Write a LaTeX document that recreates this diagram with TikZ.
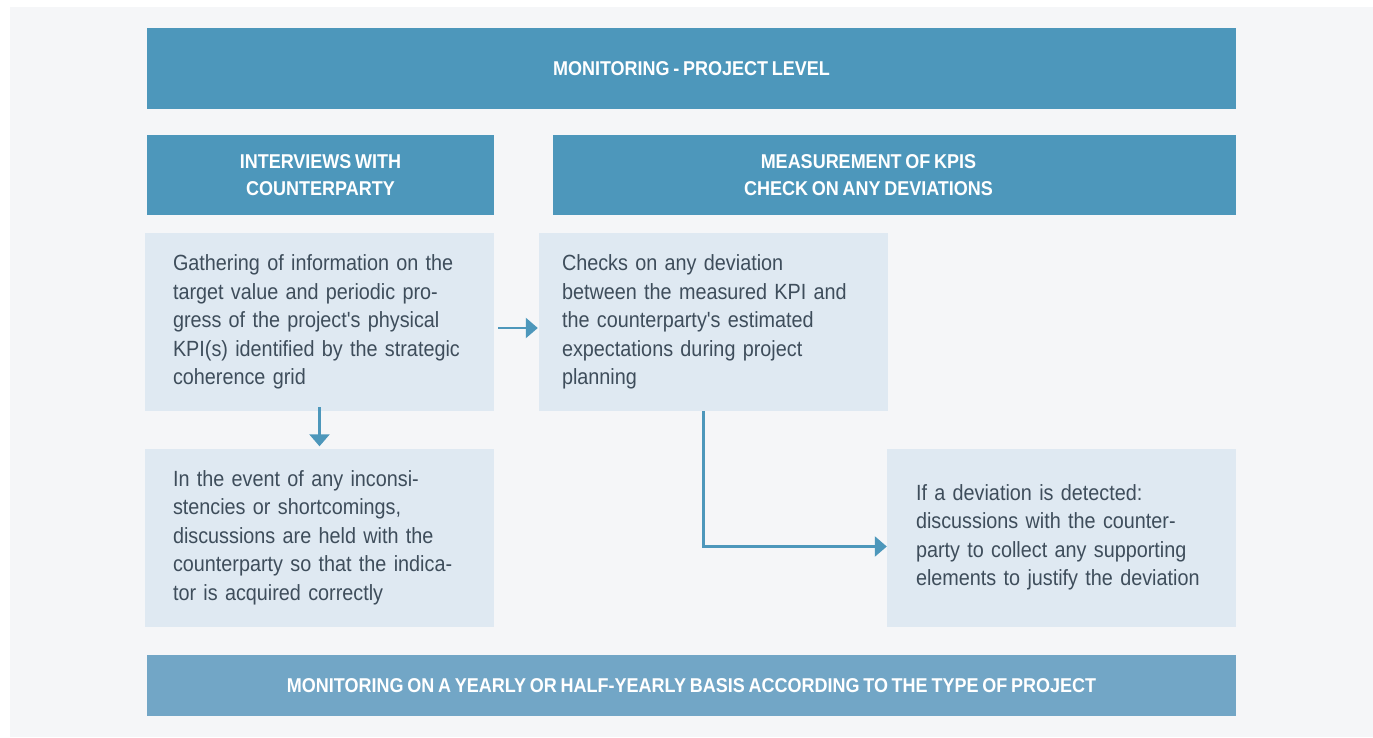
\documentclass[tikz,border=0pt]{standalone}
\usepackage{fontspec}
\setmainfont{Liberation Sans}[FakeStretch=0.9, WordSpace=0.75, Ligatures=TeXOff]
\usetikzlibrary{arrows.meta}
\definecolor{banner}{HTML}{4D97BB}
\definecolor{bannerlight}{HTML}{72A6C6}
\definecolor{boxfill}{HTML}{DFE9F2}
\definecolor{bgpanel}{HTML}{F5F6F8}
\definecolor{txt}{HTML}{3E4D5B}
\begin{document}
\begin{tikzpicture}[x=1pt,y=-1pt,
  hdr/.style={fill=banner, text=white, font=\fontsize{20}{27}\selectfont\bfseries, align=center, inner sep=0pt},
  hdrtext/.style={text=white, font=\fontsize{20}{27}\selectfont\bfseries, align=center, inner sep=0pt},
  infobox/.style={fill=boxfill, text=txt, font=\fontsize{22}{28.5}\selectfont, align=left, inner ysep=0pt, minimum height=178},
  arr/.style={draw=banner, line width=2.4pt, -{Triangle[length=12pt,width=20pt]}}
]
\useasboundingbox (0,0) rectangle (1373,737);
\fill[white] (0,0) rectangle (1373,737);
\fill[bgpanel] (10,7) rectangle (1373,737);

\node[hdr, minimum width=1089, minimum height=81] (top) at (691.5,68.5) {MONITORING - PROJECT LEVEL};
\node[hdr, minimum width=347, minimum height=80] (h1) at (320.5,175) {INTERVIEWS WITH\\COUNTERPARTY};
\node[hdr, minimum width=683, minimum height=80] (h2) at (894.5,175) {};
\node[hdrtext] (h2t) at (868.5,175) {MEASUREMENT OF KPIS\\CHECK ON ANY DEVIATIONS};

\node[infobox, inner xsep=28, text width=293] (a) at (319.5,322)
 {Gathering of information on the\\target value and periodic pro-\\gress of the project's physical\\KPI(s) identified by the strategic\\coherence grid};
\node[infobox, inner xsep=23, text width=303] (b) at (713.5,322)
 {Checks on any deviation\\between the measured KPI and\\the counterparty's estimated\\expectations during project\\planning};
\node[infobox, inner xsep=28, text width=293] (c) at (319.5,537.5)
 {In the event of any inconsi-\\stencies or shortcomings,\\discussions are held with the\\counterparty so that the indica-\\tor is acquired correctly};
\node[infobox, inner xsep=29, text width=291] (d) at (1061.5,537.5)
 {If a deviation is detected:\\discussions with the counter-\\party to collect any supporting\\elements to justify the deviation};

\node[hdr, fill=bannerlight, minimum width=1089, minimum height=61] (bot) at (691.5,685.5)
 {MONITORING ON A YEARLY OR HALF-YEARLY BASIS ACCORDING TO THE TYPE OF PROJECT};

\draw[arr] ([shift={(4,6)}]a.east) -- ([shift={(-1,6)}]b.west);
\draw[arr] ([yshift=4]a.south) -- ([yshift=2]c.north);
\draw[arr] ([xshift=-10]b.south) |- ([yshift=-9]d.west);
\end{tikzpicture}
\end{document}
